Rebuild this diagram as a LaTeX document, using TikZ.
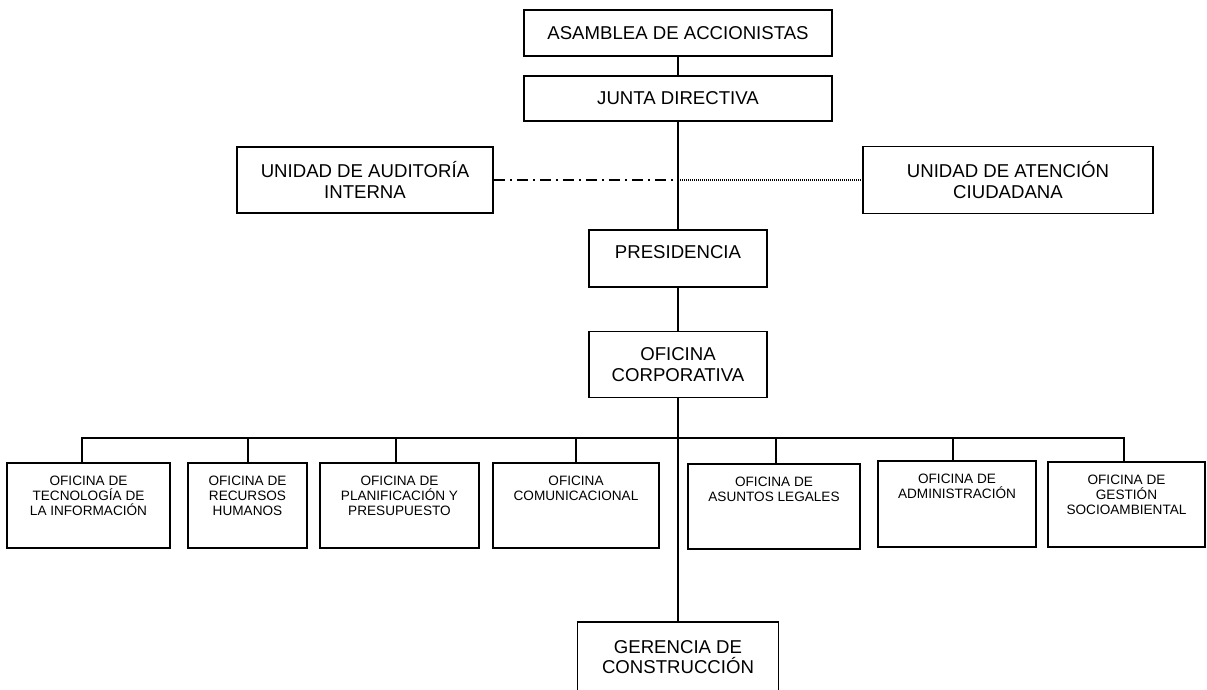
\documentclass[tikz,border=0pt]{standalone}
\usepackage{fontspec}
\setmainfont{Liberation Sans}

\begin{document}
\begin{tikzpicture}[x=1pt, y=-1pt,
    caja/.style={draw, line width=1.9pt, align=center, inner sep=0pt, font=\fontsize{18.6}{20.5}\selectfont},
    ofi/.style={draw, line width=1.9pt, minimum height=85pt, inner sep=0pt},
    texto/.style={anchor=north, align=center, inner sep=0pt, yshift=-14pt, font=\fontsize{13.6}{15}\selectfont},
    linea/.style={line width=2.4pt, line cap=rect},
    rayapunto/.style={line width=1.4pt, dash pattern=on 11pt off 5pt on 2pt off 5pt},
    punteado/.style={line width=1.2pt, dash pattern=on 1pt off 1pt}]
    \useasboundingbox (0,0) rectangle (1207,690);

    \node (asm) [caja, minimum width=308pt, minimum height=46pt] at (678,33) {ASAMBLEA DE ACCIONISTAS};
    \node (junta) [caja, minimum width=308pt, minimum height=45pt] at (678,98.5) {JUNTA DIRECTIVA};
    \node (aud) [caja, minimum width=256pt, minimum height=66pt] at (365,180) {UNIDAD DE AUDITORÍA\\INTERNA};
    \node (ate) [caja, minimum width=290pt, minimum height=67pt] at (1008,180) {UNIDAD DE ATENCIÓN\\CIUDADANA};
    \node (pres) [caja, minimum width=178pt, minimum height=57pt, text depth=13pt] at (678,258.5) {PRESIDENCIA};
    \node (ofc) [caja, minimum width=178pt, minimum height=66pt] at (678,364.5) {OFICINA\\CORPORATIVA};
    \node (ger) [caja, minimum width=201pt, minimum height=70pt] at (678,657) {GERENCIA DE\\CONSTRUCCIÓN};

    % oficinas de apoyo
    \node (tec) [ofi, minimum width=163pt, label={[texto]north:{OFICINA DE\\TECNOLOGÍA DE\\LA INFORMACIÓN}}] at (88.5,505.5) {};
    \node (rrhh) [ofi, minimum width=119pt, label={[texto]north:{OFICINA DE\\RECURSOS\\HUMANOS}}] at (247.5,505.5) {};
    \node (plan) [ofi, minimum width=159pt, label={[texto]north:{OFICINA DE\\PLANIFICACIÓN Y\\PRESUPUESTO}}] at (399.5,505.5) {};
    \node (com) [ofi, minimum width=166pt, label={[texto]north:{OFICINA\\COMUNICACIONAL}}] at (576,505.5) {};
    \node (leg) [ofi, minimum width=172pt, label={[texto]north:{OFICINA DE\\ASUNTOS LEGALES}}] at (774,506.5) {};
    \node (adm) [ofi, minimum width=158pt, minimum height=86pt, label={[texto]north:{OFICINA DE\\ADMINISTRACIÓN}}] at (957,504) {};
    \node (ges) [ofi, minimum width=157pt, label={[texto]north:{OFICINA DE\\GESTIÓN\\SOCIOAMBIENTAL}}] at (1126.5,504.5) {};

    % linea de mando
    \coordinate (cruce) at (678,180);
    \draw [linea] (asm) -- (junta);
    \draw [linea] (junta) -- (pres);
    \draw [linea] (pres) -- (ofc);
    \draw [linea] (ofc) -- (ger);
    \draw [rayapunto] (aud) -- (cruce);
    \draw [punteado] (cruce) -- (ate);

    % barra de oficinas
    \foreach \nombre/\x in {tec/82, rrhh/248, plan/396, com/576, leg/776, adm/953, ges/1124}
        \coordinate (bus-\nombre) at (\x,438);
    \draw [linea] (bus-tec) -- (bus-ges);
    \foreach \nombre in {tec, rrhh, plan, com, leg, adm, ges}
        \draw [linea] (bus-\nombre) -- (bus-\nombre |- \nombre.north);

\end{tikzpicture}
\end{document}
